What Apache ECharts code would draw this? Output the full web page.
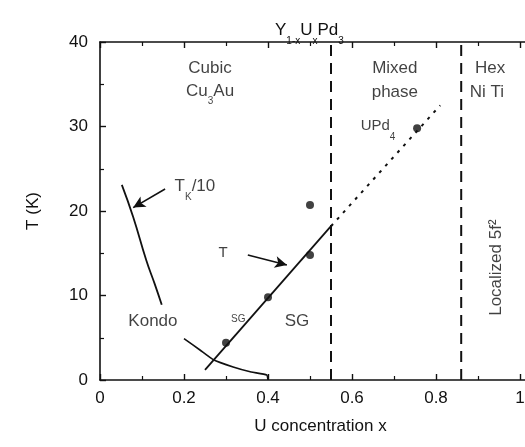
<!DOCTYPE html>
<html><head><meta charset="utf-8">
<script src="https://cdn.jsdelivr.net/npm/echarts@6/dist/echarts.min.js"></script>
<style>html,body{margin:0;padding:0;background:#fff;overflow:hidden}#c{width:541px;height:447px}</style>
</head><body><div id="c"></div>
<script>
// ---- data ----
const xTickLabels = ['0', '0.2', '0.4', '0.6', '0.8', '1'];
const yTickLabels = ['0', '10', '20', '30', '40'];
const sgLine = [[0.25, 1.2], [0.55, 18.2]];
const sgExtension = [[0.55, 18.2], [0.81, 32.5]];
const kondoUpper = [[0.052, 23.1], [0.079, 19.3], [0.11, 14.2], [0.13, 11.4], [0.147, 8.9]];
const kondoLower = [[0.2, 4.9], [0.238, 3.55], [0.27, 2.4], [0.317, 1.55], [0.36, 0.95], [0.397, 0.6], [0.4, 0]];
const measured = [[0.3, 4.4], [0.4, 9.8], [0.5, 14.8], [0.5, 20.7], [0.755, 29.8]];
const phaseBoundaries = [0.55, 0.86];

const FONT = '"Liberation Sans", Arial, sans-serif';
const chart = echarts.init(document.getElementById('c'), null, {renderer: 'canvas'});

const base = {fontFamily: FONT, fontSize: 17, fontWeight: 'normal', color: '#111', lineHeight: 24, verticalAlign: 'top'};
const sub = {fontFamily: FONT, fontSize: 10, fontWeight: 'normal', color: '#111', lineHeight: 10, verticalAlign: 'bottom'};
const richStyles = {b: base, s: sub};

const annotations = [
  {value: [0.262, 36.9], text: 'Cubic'},
  {value: [0.262, 33.8], text: '{b|Cu}{s|3}{b|Au}', rich: true},
  {value: [0.702, 36.9], text: 'Mixed'},
  {value: [0.702, 34.1], text: 'phase'},
  {value: [0.929, 36.9], text: 'Hex'},
  {value: [0.921, 34.1], text: 'Ni Ti'},
  {value: [0.662, 29.5], text: '{b|UPd}{s|4}', rich: true, size: 15},
  {value: [0.226, 22.5], text: '{b|T}{s|K}{b|/10}', rich: true},
  {value: [0.293, 15.0], text: 'T', size: 15},
  {value: [0.329, 7.2], text: 'SG', size: 10},
  {value: [0.469, 6.9], text: 'SG'},
  {value: [0.126, 6.9], text: 'Kondo'},
  {value: [0.943, 13.3], text: 'Localized 5f²', rotate: 90}
];

const option = {
  animation: false,
  backgroundColor: '#fff',
  title: {
    text: '{b|Y}{s|1-x}{b|U}{s|x}{b|Pd}{s|3}',
    left: 270, top: 17,
    textStyle: {fontWeight: 'normal', rich: richStyles}
  },
  grid: {left: 100, right: 0, top: 42, bottom: 67},
  xAxis: [{
    type: 'value', min: 0, max: 1.05, interval: 0.2,
    name: 'U concentration x', nameLocation: 'middle', nameGap: 38,
    nameTextStyle: {fontFamily: FONT, fontSize: 17, color: '#111', align: 'center', padding: [0, 0, 0, 0]},
    axisLine: {lineStyle: {color: '#111', width: 1.6}},
    axisTick: {inside: true, length: 6, lineStyle: {color: '#111', width: 1.4}},
    minorTick: {show: true, splitNumber: 2, length: 4, lineStyle: {color: '#111', width: 1.2}},
    axisLabel: {fontFamily: FONT, fontSize: 17, color: '#111', margin: 10, showMaxLabel: false,
      formatter: v => { const i = Math.round(v / 0.2); return Math.abs(v - i * 0.2) < 1e-6 ? (xTickLabels[i] || '') : ''; }},
    splitLine: {show: false}
  }, {
    type: 'value', min: 0, max: 1.05, interval: 0.2, position: 'top',
    axisLine: {lineStyle: {color: '#111', width: 1.6}},
    axisTick: {inside: true, length: 6, lineStyle: {color: '#111', width: 1.4}},
    minorTick: {show: true, splitNumber: 2, length: 4, lineStyle: {color: '#111', width: 1.2}},
    axisLabel: {show: false}, splitLine: {show: false}
  }],
  yAxis: [{
    type: 'value', min: 0, max: 40, interval: 10,
    name: 'T (K)', nameLocation: 'middle', nameGap: 58, nameRotate: 90,
    nameTextStyle: {fontFamily: FONT, fontSize: 17, color: '#111'},
    axisLine: {show: true, lineStyle: {color: '#111', width: 1.6}},
    axisTick: {inside: true, length: 6, lineStyle: {color: '#111', width: 1.4}},
    minorTick: {show: true, splitNumber: 2, length: 4, lineStyle: {color: '#111', width: 1.2}},
    axisLabel: {fontFamily: FONT, fontSize: 17, color: '#111', margin: 12,
      formatter: v => yTickLabels[Math.round(v / 10)] || ''},
    splitLine: {show: false}
  }],
  series: [
    ...phaseBoundaries.map(b => ({
      type: 'line', data: [[b, 0], [b, 40]], symbol: 'none',
      lineStyle: {color: '#111', width: 2, type: [11, 7]}
    })),
    {type: 'line', data: sgLine, symbol: 'none', lineStyle: {color: '#111', width: 1.8}},
    {type: 'line', data: sgExtension, symbol: 'none', lineStyle: {color: '#111', width: 2, type: [3, 6]}},
    {type: 'line', data: kondoUpper, symbol: 'none', smooth: true, lineStyle: {color: '#111', width: 1.8}},
    {type: 'line', data: kondoLower, symbol: 'none', smooth: 0.15, lineStyle: {color: '#111', width: 1.6}},
    {type: 'scatter', data: measured, symbol: 'circle', symbolSize: 8, itemStyle: {color: '#111'}, z: 5},
    {
      type: 'line', data: [], symbol: 'none',
      markLine: {
        silent: true, symbol: ['none', 'arrow'], symbolSize: [9, 12],
        label: {show: false},
        lineStyle: {color: '#111', width: 1.6, type: 'solid'},
        data: [
          [{coord: [0.155, 22.6]}, {coord: [0.079, 20.4]}],
          [{coord: [0.352, 14.8]}, {coord: [0.445, 13.6]}]
        ]
      }
    },
    {
      type: 'scatter', symbolSize: 0, z: 10,
      data: annotations.map(a => ({
        value: a.value,
        label: {
          show: true, position: 'inside', formatter: a.text, rotate: a.rotate || 0,
          align: 'center', verticalAlign: 'middle',
          fontFamily: FONT, fontSize: a.size || 17, color: '#111',
          rich: a.rich ? {b: Object.assign({}, base, {fontSize: a.size || 17}), s: sub} : undefined
        }
      }))
    }
  ]
};
chart.setOption(option);
</script>
</body></html>
